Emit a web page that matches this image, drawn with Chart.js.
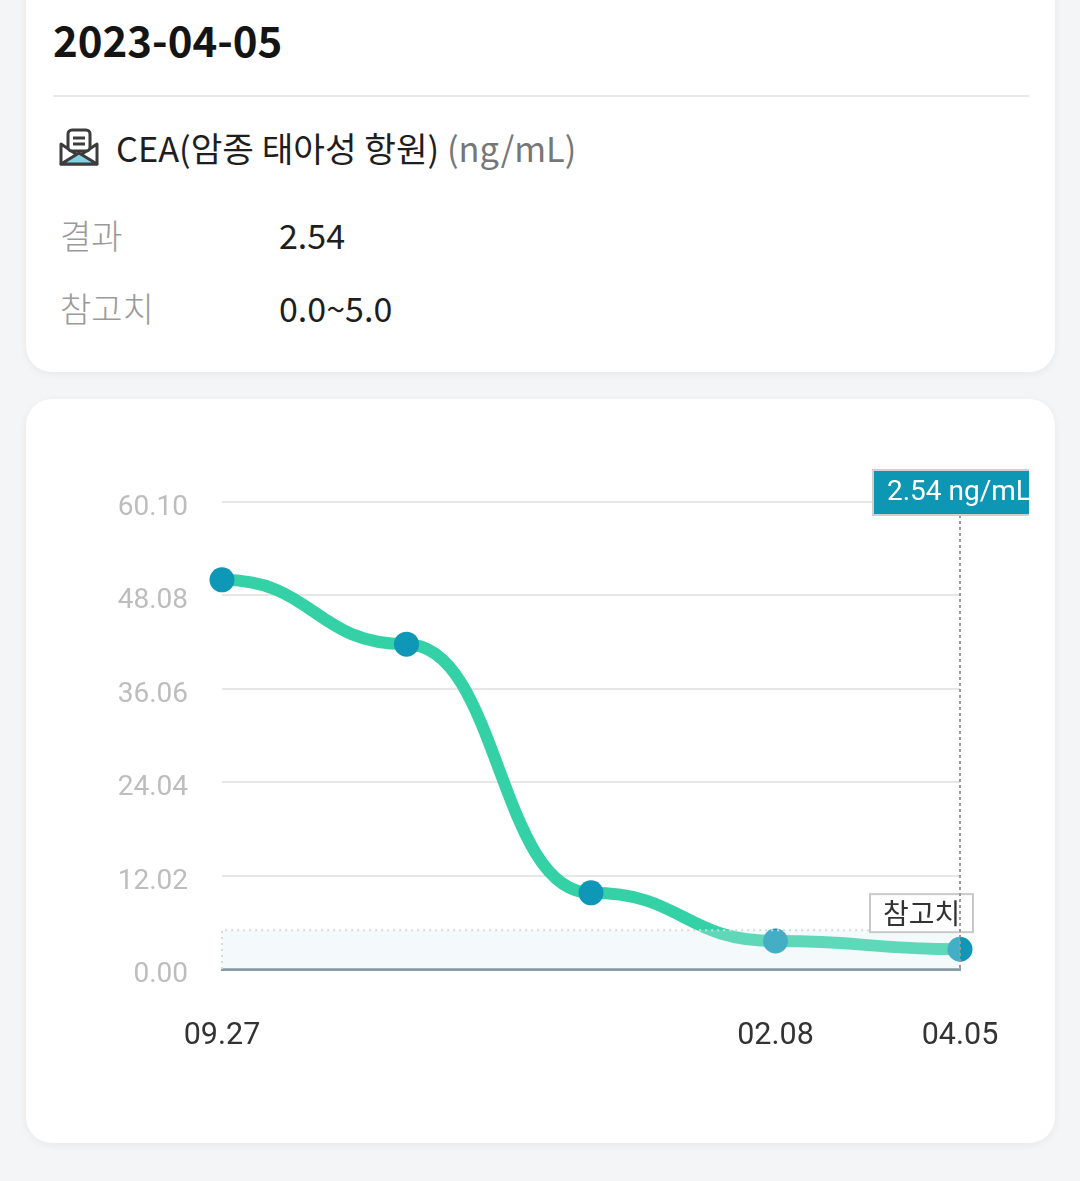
<!DOCTYPE html>
<html>
<head>
<meta charset="utf-8">
<script src="https://cdn.jsdelivr.net/npm/chart.js@4.4.0/dist/chart.umd.min.js"></script>
<style>
  html, body { margin: 0; padding: 0; }
  body { width: 1080px; height: 1181px; background: #f4f5f7; position: relative; overflow: hidden;
         font-family: "Noto Sans CJK KR", "Noto Sans", sans-serif; }
  .card { position: absolute; left: 26px; width: 1029px; background: #fff; border-radius: 26px;
          box-shadow: 0 2px 8px rgba(0,0,0,0.06); }
  #info { top: -40px; height: 412px; }
  #graph { top: 399px; height: 744px; }
  .date { position: absolute; left: 27px; top: 58px; font-size: 42px; font-weight: 700; color: #141414; line-height: 1; }
  .divider { position: absolute; left: 27px; top: 135px; width: 976px; height: 2px; background: #e8e8e8; }
  .icon { position: absolute; left: 32px; top: 168px; }
  .title { position: absolute; left: 90px; top: 167px; font-size: 34.4px; color: #1e1e1e; line-height: 1.2; }
  .title span { color: #777; }
  .row { position: absolute; left: 34px; font-size: 34px; font-weight: 300; color: #9a9a9a; line-height: 1.2; }
  .row b { position: absolute; left: 219px; top: 0; font-weight: 400; color: #1e1e1e; white-space: nowrap; }
  #wrap { position: absolute; left: 0; top: 0; width: 1003px; height: 744px; }
</style>
</head>
<body>
<div class="card" id="info">
  <div class="date">2023-04-05</div>
  <div class="divider"></div>
  <svg class="icon" width="42" height="40" viewBox="0 0 42 40">
    <path d="M3 16 L21 28 L39 16 L39 36 L3 36 Z" fill="#fff" stroke="#3c3c3c" stroke-width="3" stroke-linejoin="round"/>
    <rect x="10" y="2" width="22" height="21" rx="4" fill="#fff" stroke="#3c3c3c" stroke-width="3"/>
    <line x1="15" y1="10" x2="27" y2="10" stroke="#3c3c3c" stroke-width="3"/>
    <line x1="15" y1="16" x2="27" y2="16" stroke="#3c3c3c" stroke-width="3"/>
    <path d="M3 36 L21 25 L39 36 Z" fill="#80d4e2" stroke="#3c3c3c" stroke-width="3" stroke-linejoin="round"/>
  </svg>
  <div class="title">CEA(암종 태아성 항원) <span>(ng/mL)</span></div>
  <div class="row" style="top:255px">결과<b>2.54</b></div>
  <div class="row" style="top:328px">참고치<b>0.0~5.0</b></div>
</div>

<div class="card" id="graph">
  <div id="wrap"><canvas id="chart1"></canvas></div>
</div>

<script>
// data
var dates = ['09.27', '', '', '02.08', '04.05'];
var cea = [50.08, 41.8, 9.8, 3.6, 2.54];
var yTicks = [0, 12.02, 24.04, 36.06, 48.08, 60.10];
var refRange = [0.0, 5.0];
var unit = 'ng/mL';

// horizontal bezier: flat tangent at every point
var flatCurve = {
    id: 'flatCurve',
    beforeDatasetsDraw: function(chart) {
        var meta = chart.getDatasetMeta(0);
        var pts = meta.data;
        for (var i = 0; i < pts.length; i++) {
            var p = pts[i], prev = pts[i - 1] || p, next = pts[i + 1] || p;
            p.cp1x = (prev.x + p.x) / 2;
            p.cp1y = p.y;
            p.cp2x = (p.x + next.x) / 2;
            p.cp2y = p.y;
        }
        meta.dataset._pointsUpdated = true;
    }
};

// reference band, latest value marker
var overlay = {
    id: 'overlay',
    afterDatasetsDraw: function(chart) {
        var c = chart.ctx, a = chart.chartArea, y = chart.scales.y;
        var meta = chart.getDatasetMeta(0);
        var last = meta.data[meta.data.length - 1];
        var yHi = y.getPixelForValue(refRange[1]), yLo = y.getPixelForValue(refRange[0]);
        c.save();
        // band
        c.fillStyle = 'rgba(214,236,240,0.27)';
        c.fillRect(a.left, yHi, a.right - a.left, yLo - yHi);
        c.strokeStyle = '#d6d9dc';
        c.lineWidth = 2;
        c.setLineDash([2, 4]);
        c.beginPath();
        c.moveTo(a.left, yLo);
        c.lineTo(a.left, yHi);
        c.lineTo(a.right, yHi);
        c.stroke();
        c.setLineDash([]);

        // label
        c.fillStyle = '#fff';
        c.fillRect(last.x - 90, yHi - 36, 103, 38);
        c.strokeStyle = '#c9c9c9';
        c.strokeRect(last.x - 90, yHi - 36, 103, 38);
        c.fillStyle = '#333';
        c.font = '28px "Noto Sans CJK KR"';
        c.textBaseline = 'middle';
        c.fillText('참고치', last.x - 77, yHi - 17);

        // vertical dotted line
        c.strokeStyle = '#9a9a9a';
        c.setLineDash([3, 3]);
        c.beginPath();
        c.moveTo(last.x, a.top + 13);
        c.lineTo(last.x, a.bottom);
        c.stroke();
        c.setLineDash([]);

        // value box
        c.fillStyle = '#0d97b5';
        c.fillRect(last.x - 87, a.top - 32, 160, 45);
        c.strokeStyle = '#d0d0d0';
        c.strokeRect(last.x - 87, a.top - 32, 160, 45);
        c.fillStyle = '#fff';
        c.font = '28px Roboto';
        c.fillText(cea[cea.length - 1] + ' ' + unit, last.x - 73, a.top - 9);
        c.restore();
    }
};

var ctx = document.getElementById('chart1').getContext('2d');
var myChart = new Chart(ctx, {
    type: 'line',
    data: {
        labels: dates,
        datasets: [{
            data: cea,
            borderColor: '#33d1a5',
            borderWidth: 12,
            borderCapStyle: 'round',
            borderJoinStyle: 'round',
            tension: 0.4,
            pointRadius: 12.5,
            pointBorderWidth: 0,
            pointBackgroundColor: '#0e97b7',
            fill: false,
            clip: false
        }]
    },
    options: {
        responsive: true,
        maintainAspectRatio: false,
        animation: false,
        layout: {
            padding: { top: 103, right: 69, left: 0, bottom: 0 }
        },
        plugins: {
            legend: { display: false },
            tooltip: { enabled: false }
        },
        scales: {
            x: {
                offset: false,
                grid: { display: false, drawTicks: false },
                border: { display: true, color: '#8a9aa7', width: 3 },
                ticks: {
                    autoSkip: false,
                    maxRotation: 0,
                    padding: 49,
                    color: '#333',
                    font: { family: 'Roboto', size: 30.5 }
                },
                afterFit: function(s) {
                    s.height = 174;
                    s.paddingLeft = 0;
                    s.paddingRight = 0;
                }
            },
            y: {
                min: 0,
                max: 60.10,
                grid: { color: '#e6e6e6', lineWidth: 2, drawTicks: false },
                border: { display: false },
                ticks: {
                    padding: 34,
                    labelOffset: 6,
                    color: '#bdbdbd',
                    font: { family: 'Roboto', size: 28 },
                    callback: function(v) { return v.toFixed(2); }
                },
                afterBuildTicks: function(s) {
                    s.ticks = yTicks.map(function(v) { return { value: v }; });
                },
                afterFit: function(s) { s.width = 196; }
            }
        }
    },
    plugins: [flatCurve, overlay]
});
</script>
</body>
</html>
